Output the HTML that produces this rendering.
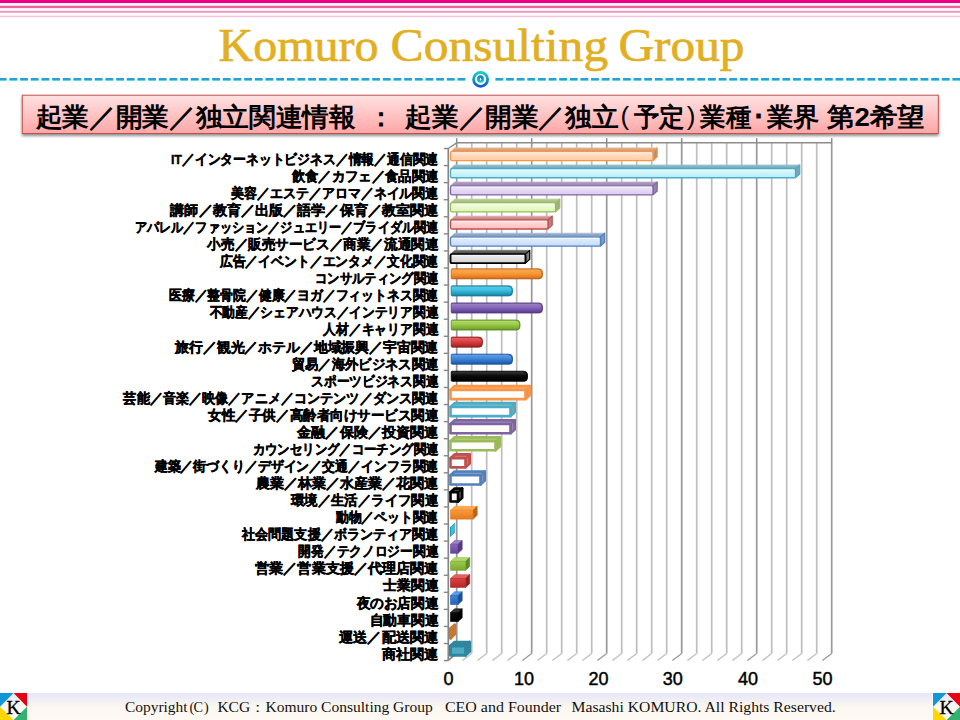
<!DOCTYPE html>
<html><head><meta charset="utf-8"><title>Komuro Consulting Group</title>
<style>
html,body{margin:0;padding:0;width:960px;height:720px;overflow:hidden;background:#fff}
svg{display:block;position:absolute;left:0;top:0}
.lab{font-family:"Liberation Sans",sans-serif;font-weight:bold;font-size:13.6px;fill:#000;stroke:#000;stroke-width:0.42px}
.num{font-family:"Liberation Sans",sans-serif;font-size:18px;fill:#000;stroke:#000;stroke-width:0.45px}
</style></head><body>
<svg width="960" height="720" viewBox="0 0 960 720">
<defs>
<linearGradient id="dashg" x1="0" y1="0" x2="0" y2="1"><stop offset="0" stop-color="#1E7FE2"/><stop offset="1" stop-color="#14CFC2"/></linearGradient>
<linearGradient id="ringg" x1="0" y1="0" x2="0" y2="1"><stop offset="0" stop-color="#12D2C0"/><stop offset="1" stop-color="#0A5CD2"/></linearGradient>
<linearGradient id="dotg" x1="0" y1="0" x2="0" y2="1"><stop offset="0" stop-color="#1A6CE0"/><stop offset="1" stop-color="#12D6B4"/></linearGradient>
<linearGradient id="boxg" x1="0" y1="0" x2="0" y2="1"><stop offset="0" stop-color="#FFE2E2"/><stop offset="1" stop-color="#FFA6A6"/></linearGradient>
<linearGradient id="footg" x1="0" y1="0" x2="0" y2="1"><stop offset="0" stop-color="#E6E6F8"/><stop offset="0.55" stop-color="#FCF8F0"/><stop offset="1" stop-color="#FFF8F4"/></linearGradient>
<filter id="sh" x="-5%" y="-30%" width="110%" height="170%"><feGaussianBlur in="SourceAlpha" stdDeviation="1.4"/><feOffset dx="-0.5" dy="2" result="b"/><feComponentTransfer><feFuncA type="linear" slope="0.45"/></feComponentTransfer><feMerge><feMergeNode/><feMergeNode in="SourceGraphic"/></feMerge></filter>
<linearGradient id="lg0" x1="0" y1="0" x2="0" y2="1"><stop offset="0" stop-color="#FFE6D2"/><stop offset="1" stop-color="#FDCBA2"/></linearGradient><linearGradient id="tg0" x1="0" y1="0" x2="0" y2="1"><stop offset="0" stop-color="#E5B086"/><stop offset="1" stop-color="#CB946A"/></linearGradient><linearGradient id="lg1" x1="0" y1="0" x2="0" y2="1"><stop offset="0" stop-color="#E4FAFF"/><stop offset="1" stop-color="#B2EEF9"/></linearGradient><linearGradient id="tg1" x1="0" y1="0" x2="0" y2="1"><stop offset="0" stop-color="#8DBFCD"/><stop offset="1" stop-color="#70A4B2"/></linearGradient><linearGradient id="lg2" x1="0" y1="0" x2="0" y2="1"><stop offset="0" stop-color="#F0E8FA"/><stop offset="1" stop-color="#D9C9F0"/></linearGradient><linearGradient id="tg2" x1="0" y1="0" x2="0" y2="1"><stop offset="0" stop-color="#B0A2C6"/><stop offset="1" stop-color="#9486AB"/></linearGradient><linearGradient id="lg3" x1="0" y1="0" x2="0" y2="1"><stop offset="0" stop-color="#F4FFE4"/><stop offset="1" stop-color="#DCF5B4"/></linearGradient><linearGradient id="tg3" x1="0" y1="0" x2="0" y2="1"><stop offset="0" stop-color="#B9CE98"/><stop offset="1" stop-color="#9EB37C"/></linearGradient><linearGradient id="lg4" x1="0" y1="0" x2="0" y2="1"><stop offset="0" stop-color="#FFE4E4"/><stop offset="1" stop-color="#FFBCBC"/></linearGradient><linearGradient id="tg4" x1="0" y1="0" x2="0" y2="1"><stop offset="0" stop-color="#D99D9D"/><stop offset="1" stop-color="#BF8282"/></linearGradient><linearGradient id="lg5" x1="0" y1="0" x2="0" y2="1"><stop offset="0" stop-color="#E8F1FF"/><stop offset="1" stop-color="#C4DAFB"/></linearGradient><linearGradient id="tg5" x1="0" y1="0" x2="0" y2="1"><stop offset="0" stop-color="#9AB2D2"/><stop offset="1" stop-color="#7E97B8"/></linearGradient><linearGradient id="lg6" x1="0" y1="0" x2="0" y2="1"><stop offset="0" stop-color="#F2F2F2"/><stop offset="1" stop-color="#D0D0D0"/></linearGradient><linearGradient id="tg6" x1="0" y1="0" x2="0" y2="1"><stop offset="0" stop-color="#696969"/><stop offset="1" stop-color="#4C4C4C"/></linearGradient><linearGradient id="cg7" x1="0" y1="0" x2="0" y2="1"><stop offset="0" stop-color="#E17A22"/><stop offset="0.1" stop-color="#FBA850"/><stop offset="0.45" stop-color="#FA9A36"/><stop offset="0.85" stop-color="#E17A22"/><stop offset="1" stop-color="#B9641C"/></linearGradient><linearGradient id="cg8" x1="0" y1="0" x2="0" y2="1"><stop offset="0" stop-color="#1E90B0"/><stop offset="0.1" stop-color="#5CC8E4"/><stop offset="0.45" stop-color="#38BFE0"/><stop offset="0.85" stop-color="#1E90B0"/><stop offset="1" stop-color="#187A96"/></linearGradient><linearGradient id="cg9" x1="0" y1="0" x2="0" y2="1"><stop offset="0" stop-color="#62449A"/><stop offset="0.1" stop-color="#9A80C4"/><stop offset="0.45" stop-color="#8866B8"/><stop offset="0.85" stop-color="#62449A"/><stop offset="1" stop-color="#553A82"/></linearGradient><linearGradient id="cg10" x1="0" y1="0" x2="0" y2="1"><stop offset="0" stop-color="#78A830"/><stop offset="0.1" stop-color="#B2D870"/><stop offset="0.45" stop-color="#9CCB48"/><stop offset="0.85" stop-color="#78A830"/><stop offset="1" stop-color="#5F8A28"/></linearGradient><linearGradient id="cg11" x1="0" y1="0" x2="0" y2="1"><stop offset="0" stop-color="#B02828"/><stop offset="0.1" stop-color="#E86060"/><stop offset="0.45" stop-color="#DC4040"/><stop offset="0.85" stop-color="#B02828"/><stop offset="1" stop-color="#8E2020"/></linearGradient><linearGradient id="cg12" x1="0" y1="0" x2="0" y2="1"><stop offset="0" stop-color="#2462B4"/><stop offset="0.1" stop-color="#5C9CE8"/><stop offset="0.45" stop-color="#3E86DA"/><stop offset="0.85" stop-color="#2462B4"/><stop offset="1" stop-color="#1E5098"/></linearGradient><linearGradient id="cg13" x1="0" y1="0" x2="0" y2="1"><stop offset="0" stop-color="#000000"/><stop offset="0.1" stop-color="#303030"/><stop offset="0.45" stop-color="#0A0A0A"/><stop offset="0.85" stop-color="#000000"/><stop offset="1" stop-color="#000000"/></linearGradient><linearGradient id="sg21" x1="0" y1="0" x2="0" y2="1"><stop offset="0" stop-color="#FA9A36"/><stop offset="1" stop-color="#E17A22"/></linearGradient><linearGradient id="sg22" x1="0" y1="0" x2="0" y2="1"><stop offset="0" stop-color="#38BFE0"/><stop offset="1" stop-color="#1E90B0"/></linearGradient><linearGradient id="sg23" x1="0" y1="0" x2="0" y2="1"><stop offset="0" stop-color="#8866B8"/><stop offset="1" stop-color="#62449A"/></linearGradient><linearGradient id="sg24" x1="0" y1="0" x2="0" y2="1"><stop offset="0" stop-color="#9CCB48"/><stop offset="1" stop-color="#78A830"/></linearGradient><linearGradient id="sg25" x1="0" y1="0" x2="0" y2="1"><stop offset="0" stop-color="#DC4040"/><stop offset="1" stop-color="#B02828"/></linearGradient><linearGradient id="sg26" x1="0" y1="0" x2="0" y2="1"><stop offset="0" stop-color="#3E86DA"/><stop offset="1" stop-color="#2462B4"/></linearGradient><linearGradient id="sg27" x1="0" y1="0" x2="0" y2="1"><stop offset="0" stop-color="#0A0A0A"/><stop offset="1" stop-color="#000000"/></linearGradient>
</defs>
<!-- top stripes -->
<rect x="0" y="0" width="960" height="3" fill="#EC008C"/>
<rect x="0" y="5.7" width="960" height="2.4" fill="#F062A4"/>
<rect x="0" y="10.8" width="960" height="2" fill="#F196C0"/>
<rect x="0" y="15.7" width="960" height="1.5" fill="#F8C2D8"/>
<!-- title -->
<g style="font-family:'Liberation Serif',serif;font-size:46.3px;fill:#E2AF22;stroke:#E2AF22;stroke-width:0.65px">
<text x="218.6" y="61.25" textLength="160" lengthAdjust="spacingAndGlyphs">Komuro</text>
<text x="390.6" y="61.25" textLength="217.6" lengthAdjust="spacingAndGlyphs">Consulting</text>
<text x="618.5" y="61.25" textLength="126" lengthAdjust="spacingAndGlyphs">Group</text>
</g>
<rect x="0.00" y="78.1" width="6.63" height="2.6" fill="url(#dashg)"/><rect x="9.40" y="78.1" width="7.90" height="2.6" fill="url(#dashg)"/><rect x="20.07" y="78.1" width="7.90" height="2.6" fill="url(#dashg)"/><rect x="30.74" y="78.1" width="7.90" height="2.6" fill="url(#dashg)"/><rect x="41.41" y="78.1" width="7.90" height="2.6" fill="url(#dashg)"/><rect x="52.08" y="78.1" width="7.90" height="2.6" fill="url(#dashg)"/><rect x="62.74" y="78.1" width="7.90" height="2.6" fill="url(#dashg)"/><rect x="73.41" y="78.1" width="7.90" height="2.6" fill="url(#dashg)"/><rect x="84.08" y="78.1" width="7.90" height="2.6" fill="url(#dashg)"/><rect x="94.75" y="78.1" width="7.90" height="2.6" fill="url(#dashg)"/><rect x="105.42" y="78.1" width="7.90" height="2.6" fill="url(#dashg)"/><rect x="116.09" y="78.1" width="7.90" height="2.6" fill="url(#dashg)"/><rect x="126.76" y="78.1" width="7.90" height="2.6" fill="url(#dashg)"/><rect x="137.43" y="78.1" width="7.90" height="2.6" fill="url(#dashg)"/><rect x="148.10" y="78.1" width="7.90" height="2.6" fill="url(#dashg)"/><rect x="158.77" y="78.1" width="7.90" height="2.6" fill="url(#dashg)"/><rect x="169.43" y="78.1" width="7.90" height="2.6" fill="url(#dashg)"/><rect x="180.10" y="78.1" width="7.90" height="2.6" fill="url(#dashg)"/><rect x="190.77" y="78.1" width="7.90" height="2.6" fill="url(#dashg)"/><rect x="201.44" y="78.1" width="7.90" height="2.6" fill="url(#dashg)"/><rect x="212.11" y="78.1" width="7.90" height="2.6" fill="url(#dashg)"/><rect x="222.78" y="78.1" width="7.90" height="2.6" fill="url(#dashg)"/><rect x="233.45" y="78.1" width="7.90" height="2.6" fill="url(#dashg)"/><rect x="244.12" y="78.1" width="7.90" height="2.6" fill="url(#dashg)"/><rect x="254.79" y="78.1" width="7.90" height="2.6" fill="url(#dashg)"/><rect x="265.46" y="78.1" width="7.90" height="2.6" fill="url(#dashg)"/><rect x="276.12" y="78.1" width="7.90" height="2.6" fill="url(#dashg)"/><rect x="286.79" y="78.1" width="7.90" height="2.6" fill="url(#dashg)"/><rect x="297.46" y="78.1" width="7.90" height="2.6" fill="url(#dashg)"/><rect x="308.13" y="78.1" width="7.90" height="2.6" fill="url(#dashg)"/><rect x="318.80" y="78.1" width="7.90" height="2.6" fill="url(#dashg)"/><rect x="329.47" y="78.1" width="7.90" height="2.6" fill="url(#dashg)"/><rect x="340.14" y="78.1" width="7.90" height="2.6" fill="url(#dashg)"/><rect x="350.81" y="78.1" width="7.90" height="2.6" fill="url(#dashg)"/><rect x="361.48" y="78.1" width="7.90" height="2.6" fill="url(#dashg)"/><rect x="372.14" y="78.1" width="7.90" height="2.6" fill="url(#dashg)"/><rect x="382.81" y="78.1" width="7.90" height="2.6" fill="url(#dashg)"/><rect x="393.48" y="78.1" width="7.90" height="2.6" fill="url(#dashg)"/><rect x="404.15" y="78.1" width="7.90" height="2.6" fill="url(#dashg)"/><rect x="414.82" y="78.1" width="7.90" height="2.6" fill="url(#dashg)"/><rect x="425.49" y="78.1" width="7.90" height="2.6" fill="url(#dashg)"/><rect x="436.16" y="78.1" width="7.90" height="2.6" fill="url(#dashg)"/><rect x="446.83" y="78.1" width="7.90" height="2.6" fill="url(#dashg)"/><rect x="457.50" y="78.1" width="7.90" height="2.6" fill="url(#dashg)"/><rect x="495.40" y="78.1" width="7.9" height="2.6" fill="url(#dashg)"/><rect x="506.03" y="78.1" width="7.9" height="2.6" fill="url(#dashg)"/><rect x="516.66" y="78.1" width="7.9" height="2.6" fill="url(#dashg)"/><rect x="527.28" y="78.1" width="7.9" height="2.6" fill="url(#dashg)"/><rect x="537.91" y="78.1" width="7.9" height="2.6" fill="url(#dashg)"/><rect x="548.54" y="78.1" width="7.9" height="2.6" fill="url(#dashg)"/><rect x="559.17" y="78.1" width="7.9" height="2.6" fill="url(#dashg)"/><rect x="569.80" y="78.1" width="7.9" height="2.6" fill="url(#dashg)"/><rect x="580.42" y="78.1" width="7.9" height="2.6" fill="url(#dashg)"/><rect x="591.05" y="78.1" width="7.9" height="2.6" fill="url(#dashg)"/><rect x="601.68" y="78.1" width="7.9" height="2.6" fill="url(#dashg)"/><rect x="612.31" y="78.1" width="7.9" height="2.6" fill="url(#dashg)"/><rect x="622.94" y="78.1" width="7.9" height="2.6" fill="url(#dashg)"/><rect x="633.56" y="78.1" width="7.9" height="2.6" fill="url(#dashg)"/><rect x="644.19" y="78.1" width="7.9" height="2.6" fill="url(#dashg)"/><rect x="654.82" y="78.1" width="7.9" height="2.6" fill="url(#dashg)"/><rect x="665.45" y="78.1" width="7.9" height="2.6" fill="url(#dashg)"/><rect x="676.08" y="78.1" width="7.9" height="2.6" fill="url(#dashg)"/><rect x="686.70" y="78.1" width="7.9" height="2.6" fill="url(#dashg)"/><rect x="697.33" y="78.1" width="7.9" height="2.6" fill="url(#dashg)"/><rect x="707.96" y="78.1" width="7.9" height="2.6" fill="url(#dashg)"/><rect x="718.59" y="78.1" width="7.9" height="2.6" fill="url(#dashg)"/><rect x="729.22" y="78.1" width="7.9" height="2.6" fill="url(#dashg)"/><rect x="739.84" y="78.1" width="7.9" height="2.6" fill="url(#dashg)"/><rect x="750.47" y="78.1" width="7.9" height="2.6" fill="url(#dashg)"/><rect x="761.10" y="78.1" width="7.9" height="2.6" fill="url(#dashg)"/><rect x="771.73" y="78.1" width="7.9" height="2.6" fill="url(#dashg)"/><rect x="782.36" y="78.1" width="7.9" height="2.6" fill="url(#dashg)"/><rect x="792.98" y="78.1" width="7.9" height="2.6" fill="url(#dashg)"/><rect x="803.61" y="78.1" width="7.9" height="2.6" fill="url(#dashg)"/><rect x="814.24" y="78.1" width="7.9" height="2.6" fill="url(#dashg)"/><rect x="824.87" y="78.1" width="7.9" height="2.6" fill="url(#dashg)"/><rect x="835.50" y="78.1" width="7.9" height="2.6" fill="url(#dashg)"/><rect x="846.12" y="78.1" width="7.9" height="2.6" fill="url(#dashg)"/><rect x="856.75" y="78.1" width="7.9" height="2.6" fill="url(#dashg)"/><rect x="867.38" y="78.1" width="7.9" height="2.6" fill="url(#dashg)"/><rect x="878.01" y="78.1" width="7.9" height="2.6" fill="url(#dashg)"/><rect x="888.64" y="78.1" width="7.9" height="2.6" fill="url(#dashg)"/><rect x="899.26" y="78.1" width="7.9" height="2.6" fill="url(#dashg)"/><rect x="909.89" y="78.1" width="7.9" height="2.6" fill="url(#dashg)"/><rect x="920.52" y="78.1" width="7.9" height="2.6" fill="url(#dashg)"/><rect x="931.15" y="78.1" width="7.9" height="2.6" fill="url(#dashg)"/><rect x="941.78" y="78.1" width="7.9" height="2.6" fill="url(#dashg)"/><rect x="952.40" y="78.1" width="7.9" height="2.6" fill="url(#dashg)"/>
<circle cx="480.6" cy="79.4" r="7" fill="none" stroke="url(#ringg)" stroke-width="2.8"/>
<ellipse cx="480.5" cy="79" rx="3.5" ry="3.8" fill="url(#dotg)"/>
<ellipse cx="480.5" cy="79.2" rx="0.6" ry="1.3" fill="#FFFFFF"/>
<!-- subtitle box -->
<rect x="22.3" y="95.2" width="916" height="38.3" fill="url(#boxg)" stroke="#C0504D" stroke-width="1" filter="url(#sh)"/>
<g style="font-family:'Liberation Sans',sans-serif;font-weight:bold;font-size:26px;fill:#000">
<text x="35.6" y="125.6" textLength="320" lengthAdjust="spacingAndGlyphs">起業／開業／独立関連情報</text>
<text x="380.9" y="125.6" text-anchor="middle">：</text>
<text x="405.2" y="125.6" textLength="213.3" lengthAdjust="spacingAndGlyphs">起業／開業／独立</text>
<text x="624.8" y="124.6" text-anchor="middle" style="font-weight:normal">(</text>
<text x="633.8" y="125.6" textLength="50.8" lengthAdjust="spacingAndGlyphs">予定</text>
<text x="691.2" y="124.6" text-anchor="middle" style="font-weight:normal">)</text>
<text x="700.1" y="125.6" textLength="51" lengthAdjust="spacingAndGlyphs">業種</text>
<text x="758.4" y="125.6" text-anchor="middle">･</text>
<text x="766.6" y="125.6" textLength="52.5" lengthAdjust="spacingAndGlyphs">業界</text>
<text x="826.9" y="125.6" textLength="98" lengthAdjust="spacingAndGlyphs">第2希望</text>
</g>
<!-- chart -->
<line x1="456.70" y1="142.8" x2="456.70" y2="653.4" stroke="#999999" stroke-width="1.7"/><line x1="456.70" y1="653.4" x2="447.40" y2="660.60" stroke="#999999" stroke-width="1.3"/><line x1="471.70" y1="142.8" x2="471.70" y2="653.4" stroke="#BEBEBE" stroke-width="1.7"/><line x1="471.70" y1="653.4" x2="462.40" y2="660.60" stroke="#BEBEBE" stroke-width="1.3"/><line x1="486.70" y1="142.8" x2="486.70" y2="653.4" stroke="#BEBEBE" stroke-width="1.7"/><line x1="486.70" y1="653.4" x2="477.40" y2="660.60" stroke="#BEBEBE" stroke-width="1.3"/><line x1="501.70" y1="142.8" x2="501.70" y2="653.4" stroke="#BEBEBE" stroke-width="1.7"/><line x1="501.70" y1="653.4" x2="492.40" y2="660.60" stroke="#BEBEBE" stroke-width="1.3"/><line x1="516.70" y1="142.8" x2="516.70" y2="653.4" stroke="#BEBEBE" stroke-width="1.7"/><line x1="516.70" y1="653.4" x2="507.40" y2="660.60" stroke="#BEBEBE" stroke-width="1.3"/><line x1="531.70" y1="142.8" x2="531.70" y2="653.4" stroke="#999999" stroke-width="1.7"/><line x1="531.70" y1="653.4" x2="522.40" y2="660.60" stroke="#999999" stroke-width="1.3"/><line x1="546.70" y1="142.8" x2="546.70" y2="653.4" stroke="#BEBEBE" stroke-width="1.7"/><line x1="546.70" y1="653.4" x2="537.40" y2="660.60" stroke="#BEBEBE" stroke-width="1.3"/><line x1="561.70" y1="142.8" x2="561.70" y2="653.4" stroke="#BEBEBE" stroke-width="1.7"/><line x1="561.70" y1="653.4" x2="552.40" y2="660.60" stroke="#BEBEBE" stroke-width="1.3"/><line x1="576.70" y1="142.8" x2="576.70" y2="653.4" stroke="#BEBEBE" stroke-width="1.7"/><line x1="576.70" y1="653.4" x2="567.40" y2="660.60" stroke="#BEBEBE" stroke-width="1.3"/><line x1="591.70" y1="142.8" x2="591.70" y2="653.4" stroke="#BEBEBE" stroke-width="1.7"/><line x1="591.70" y1="653.4" x2="582.40" y2="660.60" stroke="#BEBEBE" stroke-width="1.3"/><line x1="606.70" y1="142.8" x2="606.70" y2="653.4" stroke="#999999" stroke-width="1.7"/><line x1="606.70" y1="653.4" x2="597.40" y2="660.60" stroke="#999999" stroke-width="1.3"/><line x1="621.70" y1="142.8" x2="621.70" y2="653.4" stroke="#BEBEBE" stroke-width="1.7"/><line x1="621.70" y1="653.4" x2="612.40" y2="660.60" stroke="#BEBEBE" stroke-width="1.3"/><line x1="636.70" y1="142.8" x2="636.70" y2="653.4" stroke="#BEBEBE" stroke-width="1.7"/><line x1="636.70" y1="653.4" x2="627.40" y2="660.60" stroke="#BEBEBE" stroke-width="1.3"/><line x1="651.70" y1="142.8" x2="651.70" y2="653.4" stroke="#BEBEBE" stroke-width="1.7"/><line x1="651.70" y1="653.4" x2="642.40" y2="660.60" stroke="#BEBEBE" stroke-width="1.3"/><line x1="666.70" y1="142.8" x2="666.70" y2="653.4" stroke="#BEBEBE" stroke-width="1.7"/><line x1="666.70" y1="653.4" x2="657.40" y2="660.60" stroke="#BEBEBE" stroke-width="1.3"/><line x1="681.70" y1="142.8" x2="681.70" y2="653.4" stroke="#999999" stroke-width="1.7"/><line x1="681.70" y1="653.4" x2="672.40" y2="660.60" stroke="#999999" stroke-width="1.3"/><line x1="696.70" y1="142.8" x2="696.70" y2="653.4" stroke="#BEBEBE" stroke-width="1.7"/><line x1="696.70" y1="653.4" x2="687.40" y2="660.60" stroke="#BEBEBE" stroke-width="1.3"/><line x1="711.70" y1="142.8" x2="711.70" y2="653.4" stroke="#BEBEBE" stroke-width="1.7"/><line x1="711.70" y1="653.4" x2="702.40" y2="660.60" stroke="#BEBEBE" stroke-width="1.3"/><line x1="726.70" y1="142.8" x2="726.70" y2="653.4" stroke="#BEBEBE" stroke-width="1.7"/><line x1="726.70" y1="653.4" x2="717.40" y2="660.60" stroke="#BEBEBE" stroke-width="1.3"/><line x1="741.70" y1="142.8" x2="741.70" y2="653.4" stroke="#BEBEBE" stroke-width="1.7"/><line x1="741.70" y1="653.4" x2="732.40" y2="660.60" stroke="#BEBEBE" stroke-width="1.3"/><line x1="756.70" y1="142.8" x2="756.70" y2="653.4" stroke="#999999" stroke-width="1.7"/><line x1="756.70" y1="653.4" x2="747.40" y2="660.60" stroke="#999999" stroke-width="1.3"/><line x1="771.70" y1="142.8" x2="771.70" y2="653.4" stroke="#BEBEBE" stroke-width="1.7"/><line x1="771.70" y1="653.4" x2="762.40" y2="660.60" stroke="#BEBEBE" stroke-width="1.3"/><line x1="786.70" y1="142.8" x2="786.70" y2="653.4" stroke="#BEBEBE" stroke-width="1.7"/><line x1="786.70" y1="653.4" x2="777.40" y2="660.60" stroke="#BEBEBE" stroke-width="1.3"/><line x1="801.70" y1="142.8" x2="801.70" y2="653.4" stroke="#BEBEBE" stroke-width="1.7"/><line x1="801.70" y1="653.4" x2="792.40" y2="660.60" stroke="#BEBEBE" stroke-width="1.3"/><line x1="816.70" y1="142.8" x2="816.70" y2="653.4" stroke="#BEBEBE" stroke-width="1.7"/><line x1="816.70" y1="653.4" x2="807.40" y2="660.60" stroke="#BEBEBE" stroke-width="1.3"/><line x1="831.70" y1="142.8" x2="831.70" y2="653.4" stroke="#999999" stroke-width="1.7"/><line x1="831.70" y1="653.4" x2="822.40" y2="660.60" stroke="#999999" stroke-width="1.3"/><line x1="456.7" y1="142.8" x2="831.7" y2="142.8" stroke="#8C8C8C" stroke-width="1.6"/><line x1="456.70" y1="138.2" x2="456.70" y2="142.8" stroke="#8C8C8C" stroke-width="1.5"/><line x1="531.70" y1="138.2" x2="531.70" y2="142.8" stroke="#8C8C8C" stroke-width="1.5"/><line x1="606.70" y1="138.2" x2="606.70" y2="142.8" stroke="#8C8C8C" stroke-width="1.5"/><line x1="681.70" y1="138.2" x2="681.70" y2="142.8" stroke="#8C8C8C" stroke-width="1.5"/><line x1="756.70" y1="138.2" x2="756.70" y2="142.8" stroke="#8C8C8C" stroke-width="1.5"/><line x1="831.70" y1="138.2" x2="831.70" y2="142.8" stroke="#8C8C8C" stroke-width="1.5"/><line x1="448.3" y1="148.5" x2="456.7" y2="142.8" stroke="#8C8C8C" stroke-width="1.5"/><line x1="448.3" y1="660.5" x2="456.7" y2="653.4" stroke="#8C8C8C" stroke-width="1.4"/><line x1="448.3" y1="148.5" x2="448.3" y2="660.5" stroke="#868686" stroke-width="1.7"/><line x1="443.8" y1="148.50" x2="448.3" y2="148.50" stroke="#868686" stroke-width="1.4"/><line x1="443.8" y1="165.57" x2="448.3" y2="165.57" stroke="#868686" stroke-width="1.4"/><line x1="443.8" y1="182.64" x2="448.3" y2="182.64" stroke="#868686" stroke-width="1.4"/><line x1="443.8" y1="199.71" x2="448.3" y2="199.71" stroke="#868686" stroke-width="1.4"/><line x1="443.8" y1="216.78" x2="448.3" y2="216.78" stroke="#868686" stroke-width="1.4"/><line x1="443.8" y1="233.85" x2="448.3" y2="233.85" stroke="#868686" stroke-width="1.4"/><line x1="443.8" y1="250.92" x2="448.3" y2="250.92" stroke="#868686" stroke-width="1.4"/><line x1="443.8" y1="267.99" x2="448.3" y2="267.99" stroke="#868686" stroke-width="1.4"/><line x1="443.8" y1="285.06" x2="448.3" y2="285.06" stroke="#868686" stroke-width="1.4"/><line x1="443.8" y1="302.13" x2="448.3" y2="302.13" stroke="#868686" stroke-width="1.4"/><line x1="443.8" y1="319.20" x2="448.3" y2="319.20" stroke="#868686" stroke-width="1.4"/><line x1="443.8" y1="336.27" x2="448.3" y2="336.27" stroke="#868686" stroke-width="1.4"/><line x1="443.8" y1="353.34" x2="448.3" y2="353.34" stroke="#868686" stroke-width="1.4"/><line x1="443.8" y1="370.41" x2="448.3" y2="370.41" stroke="#868686" stroke-width="1.4"/><line x1="443.8" y1="387.48" x2="448.3" y2="387.48" stroke="#868686" stroke-width="1.4"/><line x1="443.8" y1="404.55" x2="448.3" y2="404.55" stroke="#868686" stroke-width="1.4"/><line x1="443.8" y1="421.62" x2="448.3" y2="421.62" stroke="#868686" stroke-width="1.4"/><line x1="443.8" y1="438.69" x2="448.3" y2="438.69" stroke="#868686" stroke-width="1.4"/><line x1="443.8" y1="455.76" x2="448.3" y2="455.76" stroke="#868686" stroke-width="1.4"/><line x1="443.8" y1="472.83" x2="448.3" y2="472.83" stroke="#868686" stroke-width="1.4"/><line x1="443.8" y1="489.90" x2="448.3" y2="489.90" stroke="#868686" stroke-width="1.4"/><line x1="443.8" y1="506.97" x2="448.3" y2="506.97" stroke="#868686" stroke-width="1.4"/><line x1="443.8" y1="524.04" x2="448.3" y2="524.04" stroke="#868686" stroke-width="1.4"/><line x1="443.8" y1="541.11" x2="448.3" y2="541.11" stroke="#868686" stroke-width="1.4"/><line x1="443.8" y1="558.18" x2="448.3" y2="558.18" stroke="#868686" stroke-width="1.4"/><line x1="443.8" y1="575.25" x2="448.3" y2="575.25" stroke="#868686" stroke-width="1.4"/><line x1="443.8" y1="592.32" x2="448.3" y2="592.32" stroke="#868686" stroke-width="1.4"/><line x1="443.8" y1="609.39" x2="448.3" y2="609.39" stroke="#868686" stroke-width="1.4"/><line x1="443.8" y1="626.46" x2="448.3" y2="626.46" stroke="#868686" stroke-width="1.4"/><line x1="443.8" y1="643.53" x2="448.3" y2="643.53" stroke="#868686" stroke-width="1.4"/><line x1="443.8" y1="660.60" x2="448.3" y2="660.60" stroke="#868686" stroke-width="1.4"/>
<polygon points="450.50,151.70 653.00,151.70 657.20,147.90 454.70,147.90" fill="url(#tg0)" stroke="#E8B791" stroke-width="0.8" stroke-linejoin="round"/><polygon points="653.00,151.70 657.20,147.90 657.20,156.90 653.00,160.70" fill="#AC9282" stroke="#F79646" stroke-width="1.2" stroke-linejoin="round"/><rect x="450.50" y="151.70" width="202.50" height="9.00" rx="1.6" fill="url(#lg0)" stroke="#F79646" stroke-width="1.3"/><line x1="451.70" y1="152.80" x2="651.80" y2="152.80" stroke="#FFFFFF" stroke-opacity="0.75" stroke-width="0.9"/><polygon points="450.50,168.77 795.50,168.77 799.70,164.97 454.70,164.97" fill="url(#tg1)" stroke="#97C5D1" stroke-width="0.8" stroke-linejoin="round"/><polygon points="795.50,168.77 799.70,164.97 799.70,173.97 795.50,177.77" fill="#7AA6B4" stroke="#4BACC6" stroke-width="1.2" stroke-linejoin="round"/><rect x="450.50" y="168.77" width="345.00" height="9.00" rx="1.6" fill="url(#lg1)" stroke="#4BACC6" stroke-width="1.3"/><line x1="451.70" y1="169.87" x2="794.30" y2="169.87" stroke="#FFFFFF" stroke-opacity="0.75" stroke-width="0.9"/><polygon points="450.50,185.84 653.00,185.84 657.20,182.04 454.70,182.04" fill="url(#tg2)" stroke="#B7AACB" stroke-width="0.8" stroke-linejoin="round"/><polygon points="653.00,185.84 657.20,182.04 657.20,191.04 653.00,194.84" fill="#9486AC" stroke="#8064A2" stroke-width="1.2" stroke-linejoin="round"/><rect x="450.50" y="185.84" width="202.50" height="9.00" rx="1.6" fill="url(#lg2)" stroke="#8064A2" stroke-width="1.3"/><line x1="451.70" y1="186.94" x2="651.80" y2="186.94" stroke="#FFFFFF" stroke-opacity="0.75" stroke-width="0.9"/><polygon points="450.50,202.91 555.50,202.91 559.70,199.11 454.70,199.11" fill="url(#tg3)" stroke="#C0D2A1" stroke-width="0.8" stroke-linejoin="round"/><polygon points="555.50,202.91 559.70,199.11 559.70,208.11 555.50,211.91" fill="#9CB080" stroke="#9BBB59" stroke-width="1.2" stroke-linejoin="round"/><rect x="450.50" y="202.91" width="105.00" height="9.00" rx="1.6" fill="url(#lg3)" stroke="#9BBB59" stroke-width="1.3"/><line x1="451.70" y1="204.01" x2="554.30" y2="204.01" stroke="#FFFFFF" stroke-opacity="0.75" stroke-width="0.9"/><polygon points="450.50,219.98 548.00,219.98 552.20,216.18 454.70,216.18" fill="url(#tg4)" stroke="#DDA6A6" stroke-width="0.8" stroke-linejoin="round"/><polygon points="548.00,219.98 552.20,216.18 552.20,225.18 548.00,228.98" fill="#B48484" stroke="#C0504D" stroke-width="1.2" stroke-linejoin="round"/><rect x="450.50" y="219.98" width="97.50" height="9.00" rx="1.6" fill="url(#lg4)" stroke="#C0504D" stroke-width="1.3"/><line x1="451.70" y1="221.08" x2="546.80" y2="221.08" stroke="#FFFFFF" stroke-opacity="0.75" stroke-width="0.9"/><polygon points="450.50,237.05 600.50,237.05 604.70,233.25 454.70,233.25" fill="url(#tg5)" stroke="#A3B9D6" stroke-width="0.8" stroke-linejoin="round"/><polygon points="600.50,237.05 604.70,233.25 604.70,242.25 600.50,246.05" fill="#8496B6" stroke="#4F81BD" stroke-width="1.2" stroke-linejoin="round"/><rect x="450.50" y="237.05" width="150.00" height="9.00" rx="1.6" fill="url(#lg5)" stroke="#4F81BD" stroke-width="1.3"/><line x1="451.70" y1="238.15" x2="599.30" y2="238.15" stroke="#FFFFFF" stroke-opacity="0.75" stroke-width="0.9"/><polygon points="450.50,254.12 525.50,254.12 529.70,250.32 454.70,250.32" fill="url(#tg6)" stroke="#777777" stroke-width="0.8" stroke-linejoin="round"/><polygon points="525.50,254.12 529.70,250.32 529.70,259.32 525.50,263.12" fill="#808080" stroke="#000000" stroke-width="1.2" stroke-linejoin="round"/><rect x="450.50" y="254.12" width="75.00" height="9.00" rx="1.6" fill="url(#lg6)" stroke="#000000" stroke-width="1.9"/><line x1="451.70" y1="255.22" x2="524.30" y2="255.22" stroke="#FFFFFF" stroke-opacity="0.75" stroke-width="0.9"/><path d="M452.20,268.79 H538.90 Q542.50,268.79 542.50,272.39 V275.29 Q542.50,278.89 538.90,278.89 H452.20 Q451.20,278.89 451.20,277.89 V269.79 Q451.20,268.79 452.20,268.79 Z" fill="url(#cg7)" stroke="#B9641C" stroke-width="0.8"/><path d="M538.40,269.39 Q542.10,269.39 542.10,273.84 Q542.10,278.29 538.40,278.29" fill="none" stroke="#B9641C" stroke-width="1" opacity="0.7"/><path d="M452.20,285.86 H508.90 Q512.50,285.86 512.50,289.46 V292.36 Q512.50,295.96 508.90,295.96 H452.20 Q451.20,295.96 451.20,294.96 V286.86 Q451.20,285.86 452.20,285.86 Z" fill="url(#cg8)" stroke="#187A96" stroke-width="0.8"/><path d="M508.40,286.46 Q512.10,286.46 512.10,290.91 Q512.10,295.36 508.40,295.36" fill="none" stroke="#187A96" stroke-width="1" opacity="0.7"/><path d="M452.20,302.93 H538.90 Q542.50,302.93 542.50,306.53 V309.43 Q542.50,313.03 538.90,313.03 H452.20 Q451.20,313.03 451.20,312.03 V303.93 Q451.20,302.93 452.20,302.93 Z" fill="url(#cg9)" stroke="#553A82" stroke-width="0.8"/><path d="M538.40,303.53 Q542.10,303.53 542.10,307.98 Q542.10,312.43 538.40,312.43" fill="none" stroke="#553A82" stroke-width="1" opacity="0.7"/><path d="M452.20,320.00 H516.40 Q520.00,320.00 520.00,323.60 V326.50 Q520.00,330.10 516.40,330.10 H452.20 Q451.20,330.10 451.20,329.10 V321.00 Q451.20,320.00 452.20,320.00 Z" fill="url(#cg10)" stroke="#5F8A28" stroke-width="0.8"/><path d="M515.90,320.60 Q519.60,320.60 519.60,325.05 Q519.60,329.50 515.90,329.50" fill="none" stroke="#5F8A28" stroke-width="1" opacity="0.7"/><path d="M452.20,337.07 H478.90 Q482.50,337.07 482.50,340.67 V343.57 Q482.50,347.17 478.90,347.17 H452.20 Q451.20,347.17 451.20,346.17 V338.07 Q451.20,337.07 452.20,337.07 Z" fill="url(#cg11)" stroke="#8E2020" stroke-width="0.8"/><path d="M478.40,337.67 Q482.10,337.67 482.10,342.12 Q482.10,346.57 478.40,346.57" fill="none" stroke="#8E2020" stroke-width="1" opacity="0.7"/><path d="M452.20,354.14 H508.90 Q512.50,354.14 512.50,357.74 V360.64 Q512.50,364.24 508.90,364.24 H452.20 Q451.20,364.24 451.20,363.24 V355.14 Q451.20,354.14 452.20,354.14 Z" fill="url(#cg12)" stroke="#1E5098" stroke-width="0.8"/><path d="M508.40,354.74 Q512.10,354.74 512.10,359.19 Q512.10,363.64 508.40,363.64" fill="none" stroke="#1E5098" stroke-width="1" opacity="0.7"/><path d="M452.20,371.21 H523.90 Q527.50,371.21 527.50,374.81 V377.71 Q527.50,381.31 523.90,381.31 H452.20 Q451.20,381.31 451.20,380.31 V372.21 Q451.20,371.21 452.20,371.21 Z" fill="url(#cg13)" stroke="#000000" stroke-width="0.8"/><path d="M523.40,371.81 Q527.10,371.81 527.10,376.26 Q527.10,380.71 523.40,380.71" fill="none" stroke="#000000" stroke-width="1" opacity="0.7"/><polygon points="450.50,389.88 525.50,389.88 529.70,386.08 454.70,386.08" fill="#F79646" stroke="#F79646" stroke-width="2.6" stroke-linejoin="round"/><polygon points="525.50,389.88 529.70,386.08 529.70,395.28 525.50,399.08" fill="#F79646" stroke="#F79646" stroke-width="2.6" stroke-linejoin="round"/><polygon points="450.50,389.88 525.50,389.88 525.50,399.08 450.50,399.08" fill="#FFFFFF" stroke="#F79646" stroke-width="2.6" stroke-linejoin="round"/><line x1="454.60" y1="387.98" x2="526.60" y2="387.98" stroke="#FFFFFF" stroke-opacity="0.35" stroke-width="0.8"/><line x1="527.60" y1="389.18" x2="527.60" y2="395.98" stroke="#A0A0A0" stroke-opacity="0.8" stroke-width="0.9"/><polygon points="450.50,406.95 510.50,406.95 514.70,403.15 454.70,403.15" fill="#4BACC6" stroke="#4BACC6" stroke-width="2.6" stroke-linejoin="round"/><polygon points="510.50,406.95 514.70,403.15 514.70,412.35 510.50,416.15" fill="#4BACC6" stroke="#4BACC6" stroke-width="2.6" stroke-linejoin="round"/><polygon points="450.50,406.95 510.50,406.95 510.50,416.15 450.50,416.15" fill="#FFFFFF" stroke="#4BACC6" stroke-width="2.6" stroke-linejoin="round"/><line x1="454.60" y1="405.05" x2="511.60" y2="405.05" stroke="#FFFFFF" stroke-opacity="0.35" stroke-width="0.8"/><line x1="512.60" y1="406.25" x2="512.60" y2="413.05" stroke="#A0A0A0" stroke-opacity="0.8" stroke-width="0.9"/><polygon points="450.50,424.02 510.50,424.02 514.70,420.22 454.70,420.22" fill="#8064A2" stroke="#8064A2" stroke-width="2.6" stroke-linejoin="round"/><polygon points="510.50,424.02 514.70,420.22 514.70,429.42 510.50,433.22" fill="#8064A2" stroke="#8064A2" stroke-width="2.6" stroke-linejoin="round"/><polygon points="450.50,424.02 510.50,424.02 510.50,433.22 450.50,433.22" fill="#FFFFFF" stroke="#8064A2" stroke-width="2.6" stroke-linejoin="round"/><line x1="454.60" y1="422.12" x2="511.60" y2="422.12" stroke="#FFFFFF" stroke-opacity="0.35" stroke-width="0.8"/><line x1="512.60" y1="423.32" x2="512.60" y2="430.12" stroke="#A0A0A0" stroke-opacity="0.8" stroke-width="0.9"/><polygon points="450.50,441.09 495.50,441.09 499.70,437.29 454.70,437.29" fill="#9BBB59" stroke="#9BBB59" stroke-width="2.6" stroke-linejoin="round"/><polygon points="495.50,441.09 499.70,437.29 499.70,446.49 495.50,450.29" fill="#9BBB59" stroke="#9BBB59" stroke-width="2.6" stroke-linejoin="round"/><polygon points="450.50,441.09 495.50,441.09 495.50,450.29 450.50,450.29" fill="#FFFFFF" stroke="#9BBB59" stroke-width="2.6" stroke-linejoin="round"/><line x1="454.60" y1="439.19" x2="496.60" y2="439.19" stroke="#FFFFFF" stroke-opacity="0.35" stroke-width="0.8"/><line x1="497.60" y1="440.39" x2="497.60" y2="447.19" stroke="#A0A0A0" stroke-opacity="0.8" stroke-width="0.9"/><polygon points="450.50,458.16 465.50,458.16 469.70,454.36 454.70,454.36" fill="#C0504D" stroke="#C0504D" stroke-width="2.6" stroke-linejoin="round"/><polygon points="465.50,458.16 469.70,454.36 469.70,463.56 465.50,467.36" fill="#C0504D" stroke="#C0504D" stroke-width="2.6" stroke-linejoin="round"/><polygon points="450.50,458.16 465.50,458.16 465.50,467.36 450.50,467.36" fill="#FFFFFF" stroke="#C0504D" stroke-width="2.6" stroke-linejoin="round"/><line x1="454.60" y1="456.26" x2="466.60" y2="456.26" stroke="#FFFFFF" stroke-opacity="0.35" stroke-width="0.8"/><line x1="467.60" y1="457.46" x2="467.60" y2="464.26" stroke="#A0A0A0" stroke-opacity="0.8" stroke-width="0.9"/><polygon points="450.50,475.23 480.50,475.23 484.70,471.43 454.70,471.43" fill="#4F81BD" stroke="#4F81BD" stroke-width="2.6" stroke-linejoin="round"/><polygon points="480.50,475.23 484.70,471.43 484.70,480.63 480.50,484.43" fill="#4F81BD" stroke="#4F81BD" stroke-width="2.6" stroke-linejoin="round"/><polygon points="450.50,475.23 480.50,475.23 480.50,484.43 450.50,484.43" fill="#FFFFFF" stroke="#4F81BD" stroke-width="2.6" stroke-linejoin="round"/><line x1="454.60" y1="473.33" x2="481.60" y2="473.33" stroke="#FFFFFF" stroke-opacity="0.35" stroke-width="0.8"/><line x1="482.60" y1="474.53" x2="482.60" y2="481.33" stroke="#A0A0A0" stroke-opacity="0.8" stroke-width="0.9"/><polygon points="450.50,492.30 458.00,492.30 462.20,488.50 454.70,488.50" fill="#000000" stroke="#000000" stroke-width="2.6" stroke-linejoin="round"/><polygon points="458.00,492.30 462.20,488.50 462.20,497.70 458.00,501.50" fill="#000000" stroke="#000000" stroke-width="2.6" stroke-linejoin="round"/><polygon points="450.50,492.30 458.00,492.30 458.00,501.50 450.50,501.50" fill="#FFFFFF" stroke="#000000" stroke-width="2.6" stroke-linejoin="round"/><line x1="454.60" y1="490.40" x2="459.10" y2="490.40" stroke="#FFFFFF" stroke-opacity="0.35" stroke-width="0.8"/><line x1="460.10" y1="491.60" x2="460.10" y2="498.40" stroke="#A0A0A0" stroke-opacity="0.8" stroke-width="0.9"/><polygon points="450.50,510.17 473.00,510.17 477.20,506.37 454.70,506.37" fill="#FBA850" stroke="#F79A3C" stroke-width="0.6" stroke-linejoin="round"/><polygon points="473.00,510.17 477.20,506.37 477.20,515.37 473.00,519.17" fill="#B9641C" stroke="#B9641C" stroke-width="0.6" stroke-linejoin="round"/><polygon points="450.50,510.17 473.00,510.17 473.00,519.17 450.50,519.17" fill="url(#sg21)" stroke="#E17A22" stroke-width="0.6" stroke-linejoin="round"/><polygon points="450.50,527.24 450.50,527.24 454.70,523.44 454.70,523.44" fill="#5CC8E4" stroke="#3CB8D8" stroke-width="0.6" stroke-linejoin="round"/><polygon points="450.50,527.24 454.70,523.44 454.70,532.44 450.50,536.24" fill="#38BFE0" stroke="#1E90B0" stroke-width="0.6" stroke-linejoin="round"/><polygon points="450.50,527.24 450.50,527.24 450.50,536.24 450.50,536.24" fill="url(#sg22)" stroke="#1E90B0" stroke-width="0.6" stroke-linejoin="round"/><polygon points="450.50,544.31 458.00,544.31 462.20,540.51 454.70,540.51" fill="#9A80C4" stroke="#8468B0" stroke-width="0.6" stroke-linejoin="round"/><polygon points="458.00,544.31 462.20,540.51 462.20,549.51 458.00,553.31" fill="#553A82" stroke="#553A82" stroke-width="0.6" stroke-linejoin="round"/><polygon points="450.50,544.31 458.00,544.31 458.00,553.31 450.50,553.31" fill="url(#sg23)" stroke="#62449A" stroke-width="0.6" stroke-linejoin="round"/><polygon points="450.50,561.38 465.50,561.38 469.70,557.58 454.70,557.58" fill="#B2D870" stroke="#9CC850" stroke-width="0.6" stroke-linejoin="round"/><polygon points="465.50,561.38 469.70,557.58 469.70,566.58 465.50,570.38" fill="#5F8A28" stroke="#5F8A28" stroke-width="0.6" stroke-linejoin="round"/><polygon points="450.50,561.38 465.50,561.38 465.50,570.38 450.50,570.38" fill="url(#sg24)" stroke="#78A830" stroke-width="0.6" stroke-linejoin="round"/><polygon points="450.50,578.45 465.50,578.45 469.70,574.65 454.70,574.65" fill="#E86060" stroke="#D84444" stroke-width="0.6" stroke-linejoin="round"/><polygon points="465.50,578.45 469.70,574.65 469.70,583.65 465.50,587.45" fill="#8E2020" stroke="#8E2020" stroke-width="0.6" stroke-linejoin="round"/><polygon points="450.50,578.45 465.50,578.45 465.50,587.45 450.50,587.45" fill="url(#sg25)" stroke="#B02828" stroke-width="0.6" stroke-linejoin="round"/><polygon points="450.50,595.52 458.00,595.52 462.20,591.72 454.70,591.72" fill="#5C9CE8" stroke="#3E84D8" stroke-width="0.6" stroke-linejoin="round"/><polygon points="458.00,595.52 462.20,591.72 462.20,600.72 458.00,604.52" fill="#1E5098" stroke="#1E5098" stroke-width="0.6" stroke-linejoin="round"/><polygon points="450.50,595.52 458.00,595.52 458.00,604.52 450.50,604.52" fill="url(#sg26)" stroke="#2462B4" stroke-width="0.6" stroke-linejoin="round"/><polygon points="450.50,612.59 458.00,612.59 462.20,608.79 454.70,608.79" fill="#303030" stroke="#101010" stroke-width="0.6" stroke-linejoin="round"/><polygon points="458.00,612.59 462.20,608.79 462.20,617.79 458.00,621.59" fill="#000000" stroke="#000000" stroke-width="0.6" stroke-linejoin="round"/><polygon points="450.50,612.59 458.00,612.59 458.00,621.59 450.50,621.59" fill="url(#sg27)" stroke="#000000" stroke-width="0.6" stroke-linejoin="round"/><polygon points="450.50,628.86 450.50,628.86 454.70,625.06 454.70,625.06" fill="#C87832" stroke="#C87832" stroke-width="3" stroke-linejoin="round"/><polygon points="450.50,628.86 454.70,625.06 454.70,634.26 450.50,638.06" fill="#C87832" stroke="#C87832" stroke-width="3" stroke-linejoin="round"/><polygon points="450.50,628.86 450.50,628.86 450.50,638.06 450.50,638.06" fill="#F79646" stroke="#C87832" stroke-width="3" stroke-linejoin="round"/><polygon points="450.50,645.93 465.50,645.93 469.70,642.13 454.70,642.13" fill="#31859C" stroke="#31859C" stroke-width="3" stroke-linejoin="round"/><polygon points="465.50,645.93 469.70,642.13 469.70,651.33 465.50,655.13" fill="#31859C" stroke="#31859C" stroke-width="3" stroke-linejoin="round"/><polygon points="450.50,645.93 465.50,645.93 465.50,655.13 450.50,655.13" fill="#4BACC6" stroke="#31859C" stroke-width="3" stroke-linejoin="round"/>
<g class="lab"><text x="438.3" y="163.73" text-anchor="end" textLength="267.4" lengthAdjust="spacingAndGlyphs">IT／インターネットビジネス／情報／通信関連</text><text x="438.3" y="180.80" text-anchor="end" textLength="146.6" lengthAdjust="spacingAndGlyphs">飲食／カフェ／食品関連</text><text x="438.3" y="197.87" text-anchor="end" textLength="207.1" lengthAdjust="spacingAndGlyphs">美容／エステ／アロマ／ネイル関連</text><text x="438.3" y="214.94" text-anchor="end" textLength="268.0" lengthAdjust="spacingAndGlyphs">講師／教育／出版／語学／保育／教室関連</text><text x="438.3" y="232.01" text-anchor="end" textLength="303.6" lengthAdjust="spacingAndGlyphs">アパレル／ファッション／ジュエリー／ブライダル関連</text><text x="438.3" y="249.08" text-anchor="end" textLength="230.9" lengthAdjust="spacingAndGlyphs">小売／販売サービス／商業／流通関連</text><text x="438.3" y="266.16" text-anchor="end" textLength="218.6" lengthAdjust="spacingAndGlyphs">広告／イベント／エンタメ／文化関連</text><text x="438.3" y="283.23" text-anchor="end" textLength="123.1" lengthAdjust="spacingAndGlyphs">コンサルティング関連</text><text x="438.3" y="300.30" text-anchor="end" textLength="269.4" lengthAdjust="spacingAndGlyphs">医療／整骨院／健康／ヨガ／フィットネス関連</text><text x="438.3" y="317.37" text-anchor="end" textLength="228.6" lengthAdjust="spacingAndGlyphs">不動産／シェアハウス／インテリア関連</text><text x="438.3" y="334.44" text-anchor="end" textLength="114.9" lengthAdjust="spacingAndGlyphs">人材／キャリア関連</text><text x="438.3" y="351.50" text-anchor="end" textLength="263.1" lengthAdjust="spacingAndGlyphs">旅行／観光／ホテル／地域振興／宇宙関連</text><text x="438.3" y="368.58" text-anchor="end" textLength="146.6" lengthAdjust="spacingAndGlyphs">貿易／海外ビジネス関連</text><text x="438.3" y="385.64" text-anchor="end" textLength="127.1" lengthAdjust="spacingAndGlyphs">スポーツビジネス関連</text><text x="438.3" y="402.72" text-anchor="end" textLength="314.9" lengthAdjust="spacingAndGlyphs">芸能／音楽／映像／アニメ／コンテンツ／ダンス関連</text><text x="438.3" y="419.79" text-anchor="end" textLength="229.9" lengthAdjust="spacingAndGlyphs">女性／子供／高齢者向けサービス関連</text><text x="438.3" y="436.86" text-anchor="end" textLength="141.1" lengthAdjust="spacingAndGlyphs">金融／保険／投資関連</text><text x="438.3" y="453.93" text-anchor="end" textLength="185.6" lengthAdjust="spacingAndGlyphs">カウンセリング／コーチング関連</text><text x="438.3" y="471.00" text-anchor="end" textLength="283.6" lengthAdjust="spacingAndGlyphs">建築／街づくり／デザイン／交通／インフラ関連</text><text x="438.3" y="488.06" text-anchor="end" textLength="182.4" lengthAdjust="spacingAndGlyphs">農業／林業／水産業／花関連</text><text x="438.3" y="505.13" text-anchor="end" textLength="147.4" lengthAdjust="spacingAndGlyphs">環境／生活／ライフ関連</text><text x="438.3" y="522.21" text-anchor="end" textLength="102.4" lengthAdjust="spacingAndGlyphs">動物／ペット関連</text><text x="438.3" y="539.27" text-anchor="end" textLength="196.1" lengthAdjust="spacingAndGlyphs">社会問題支援／ボランティア関連</text><text x="438.3" y="556.35" text-anchor="end" textLength="139.9" lengthAdjust="spacingAndGlyphs">開発／テクノロジー関連</text><text x="438.3" y="573.42" text-anchor="end" textLength="183.1" lengthAdjust="spacingAndGlyphs">営業／営業支援／代理店関連</text><text x="438.3" y="590.49" text-anchor="end" textLength="54.9" lengthAdjust="spacingAndGlyphs">士業関連</text><text x="438.3" y="607.55" text-anchor="end" textLength="81.6" lengthAdjust="spacingAndGlyphs">夜のお店関連</text><text x="438.3" y="624.62" text-anchor="end" textLength="68.6" lengthAdjust="spacingAndGlyphs">自動車関連</text><text x="438.3" y="641.70" text-anchor="end" textLength="99.2" lengthAdjust="spacingAndGlyphs">運送／配送関連</text><text x="438.3" y="658.76" text-anchor="end" textLength="56.1" lengthAdjust="spacingAndGlyphs">商社関連</text></g>
<g class="num"><text x="448.4" y="685.3" text-anchor="middle">0</text><text x="524.0" y="685.3" text-anchor="middle">10</text><text x="598.4" y="685.3" text-anchor="middle">20</text><text x="672.8" y="685.3" text-anchor="middle">30</text><text x="748.0" y="685.3" text-anchor="middle">40</text><text x="822.4" y="685.3" text-anchor="middle">50</text></g>
<!-- footer -->
<rect x="27" y="693" width="905.5" height="27" fill="url(#footg)"/>
<g id="logoL">
<rect x="0" y="693" width="27" height="27" fill="url(#footg)"/>
<polygon points="0,693 13.6,693 0,706.7" fill="#1296DB"/>
<polygon points="13.6,693 27,693 27,706.7" fill="#E60012"/>
<polygon points="0,706.7 0,720 13.6,720" fill="#FFD700"/>
<polygon points="27,706.7 27,720 13.6,720" fill="#33B171"/>
<text x="13.6" y="713.5" text-anchor="middle" style="font-family:'Liberation Serif',serif;font-size:19.5px;fill:#000;stroke:#000;stroke-width:0.3px">K</text>
</g>
<g transform="translate(933,0)">
<rect x="0" y="693" width="27" height="27" fill="url(#footg)"/>
<polygon points="0,693 13.6,693 0,706.7" fill="#1296DB"/>
<polygon points="13.6,693 27,693 27,706.7" fill="#E60012"/>
<polygon points="0,706.7 0,720 13.6,720" fill="#FFD700"/>
<polygon points="27,706.7 27,720 13.6,720" fill="#33B171"/>
<text x="13.6" y="713.5" text-anchor="middle" style="font-family:'Liberation Serif',serif;font-size:19.5px;fill:#000;stroke:#000;stroke-width:0.3px">K</text>
</g>
<g style="font-family:'Liberation Serif',serif;font-size:14.2px;fill:#111">
<text x="125" y="712.3" textLength="62.5" lengthAdjust="spacingAndGlyphs">Copyright</text>
<text x="189.6" y="712.3">(</text><text x="193.6" y="712.3">C</text><text x="203.9" y="712.3">)</text>
<text x="217.4" y="712.3" textLength="215.4" lengthAdjust="spacingAndGlyphs">KCG：Komuro Consulting Group</text>
<text x="444.9" y="712.3" textLength="116.3" lengthAdjust="spacingAndGlyphs">CEO and Founder</text>
<text x="571.5" y="712.3" textLength="264.2" lengthAdjust="spacingAndGlyphs">Masashi KOMURO. All Rights Reserved.</text>
</g>
</svg>
</body></html>
